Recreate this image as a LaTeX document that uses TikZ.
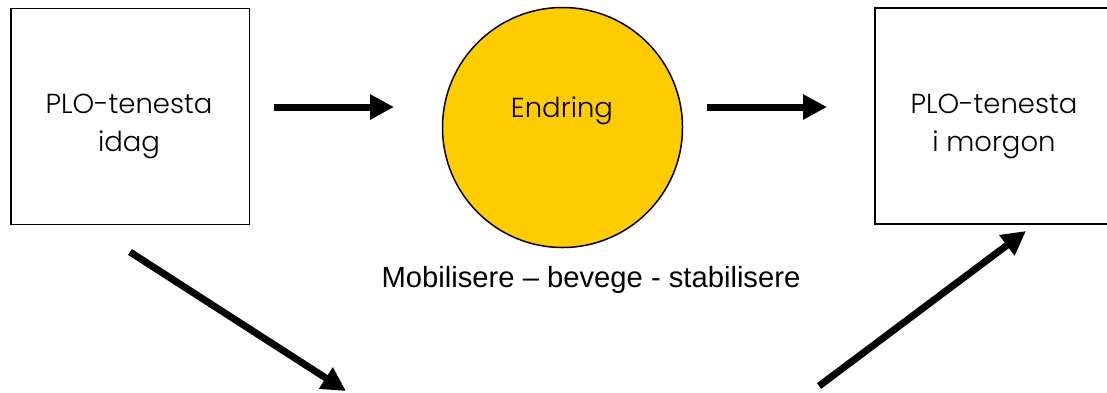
\documentclass[tikz,border=0pt]{standalone}
\usepackage{fontspec}
\setmainfont{Liberation Sans}
\newfontfamily\gothic{Poppins Light}
\usetikzlibrary{arrows.meta}
\definecolor{gold}{HTML}{FFCC00}
\begin{document}
\begin{tikzpicture}[x=1pt,y=-1pt,
  box/.style={draw,line width=1.5pt,minimum width=238.5pt,minimum height=216pt,inner sep=0pt},
  bigarrow/.style={line width=7pt,-{Triangle[length=24pt,width=24pt]}},
  boxtext/.style={font=\gothic\fontsize{27.5}{32}\selectfont,anchor=base,inner sep=0pt},
  captext/.style={font=\fontsize{29.2}{34}\selectfont,anchor=base,inner sep=0pt}]
\useasboundingbox (0,0) rectangle (1107,392);
\begin{scope}
\clip (0,0) rectangle (1107,392);
\node[box] (L) at (130,116.5) {};
\node[box] (R) at (994,116) {};
\node[circle,draw,line width=1.5pt,fill=gold,minimum size=240pt,inner sep=0pt] (C) at (562.5,127.5) {};
\node[boxtext] (Lt1) at (129,113) {PLO-tenesta};
\node[boxtext] (Lt2) at (129,151) {idag};
\node[boxtext] (Rt1) at (994,113) {PLO-tenesta};
\node[boxtext] (Rt2) at (994,151) {i morgon};
\node[boxtext] (Ct) at (562,117) {Endring};
\node[captext] (cap) at (591,287) {Mobilisere – bevege - stabilisere};
\coordinate (a1s) at (274,107);
\coordinate (a1e) at (394,107);
\coordinate (a2s) at (707,107);
\coordinate (a2e) at (827,107);
\coordinate (a3s) at (130,252);
\coordinate (a3e) at (346,391);
\coordinate (a4s) at (819,386);
\coordinate (a4e) at (1026,231);
\draw[bigarrow] (a1s) -- (a1e);
\draw[bigarrow] (a2s) -- (a2e);
\draw[bigarrow] (a3s) -- (a3e);
\draw[bigarrow] (a4s) -- (a4e);
\end{scope}
\end{tikzpicture}
\end{document}
